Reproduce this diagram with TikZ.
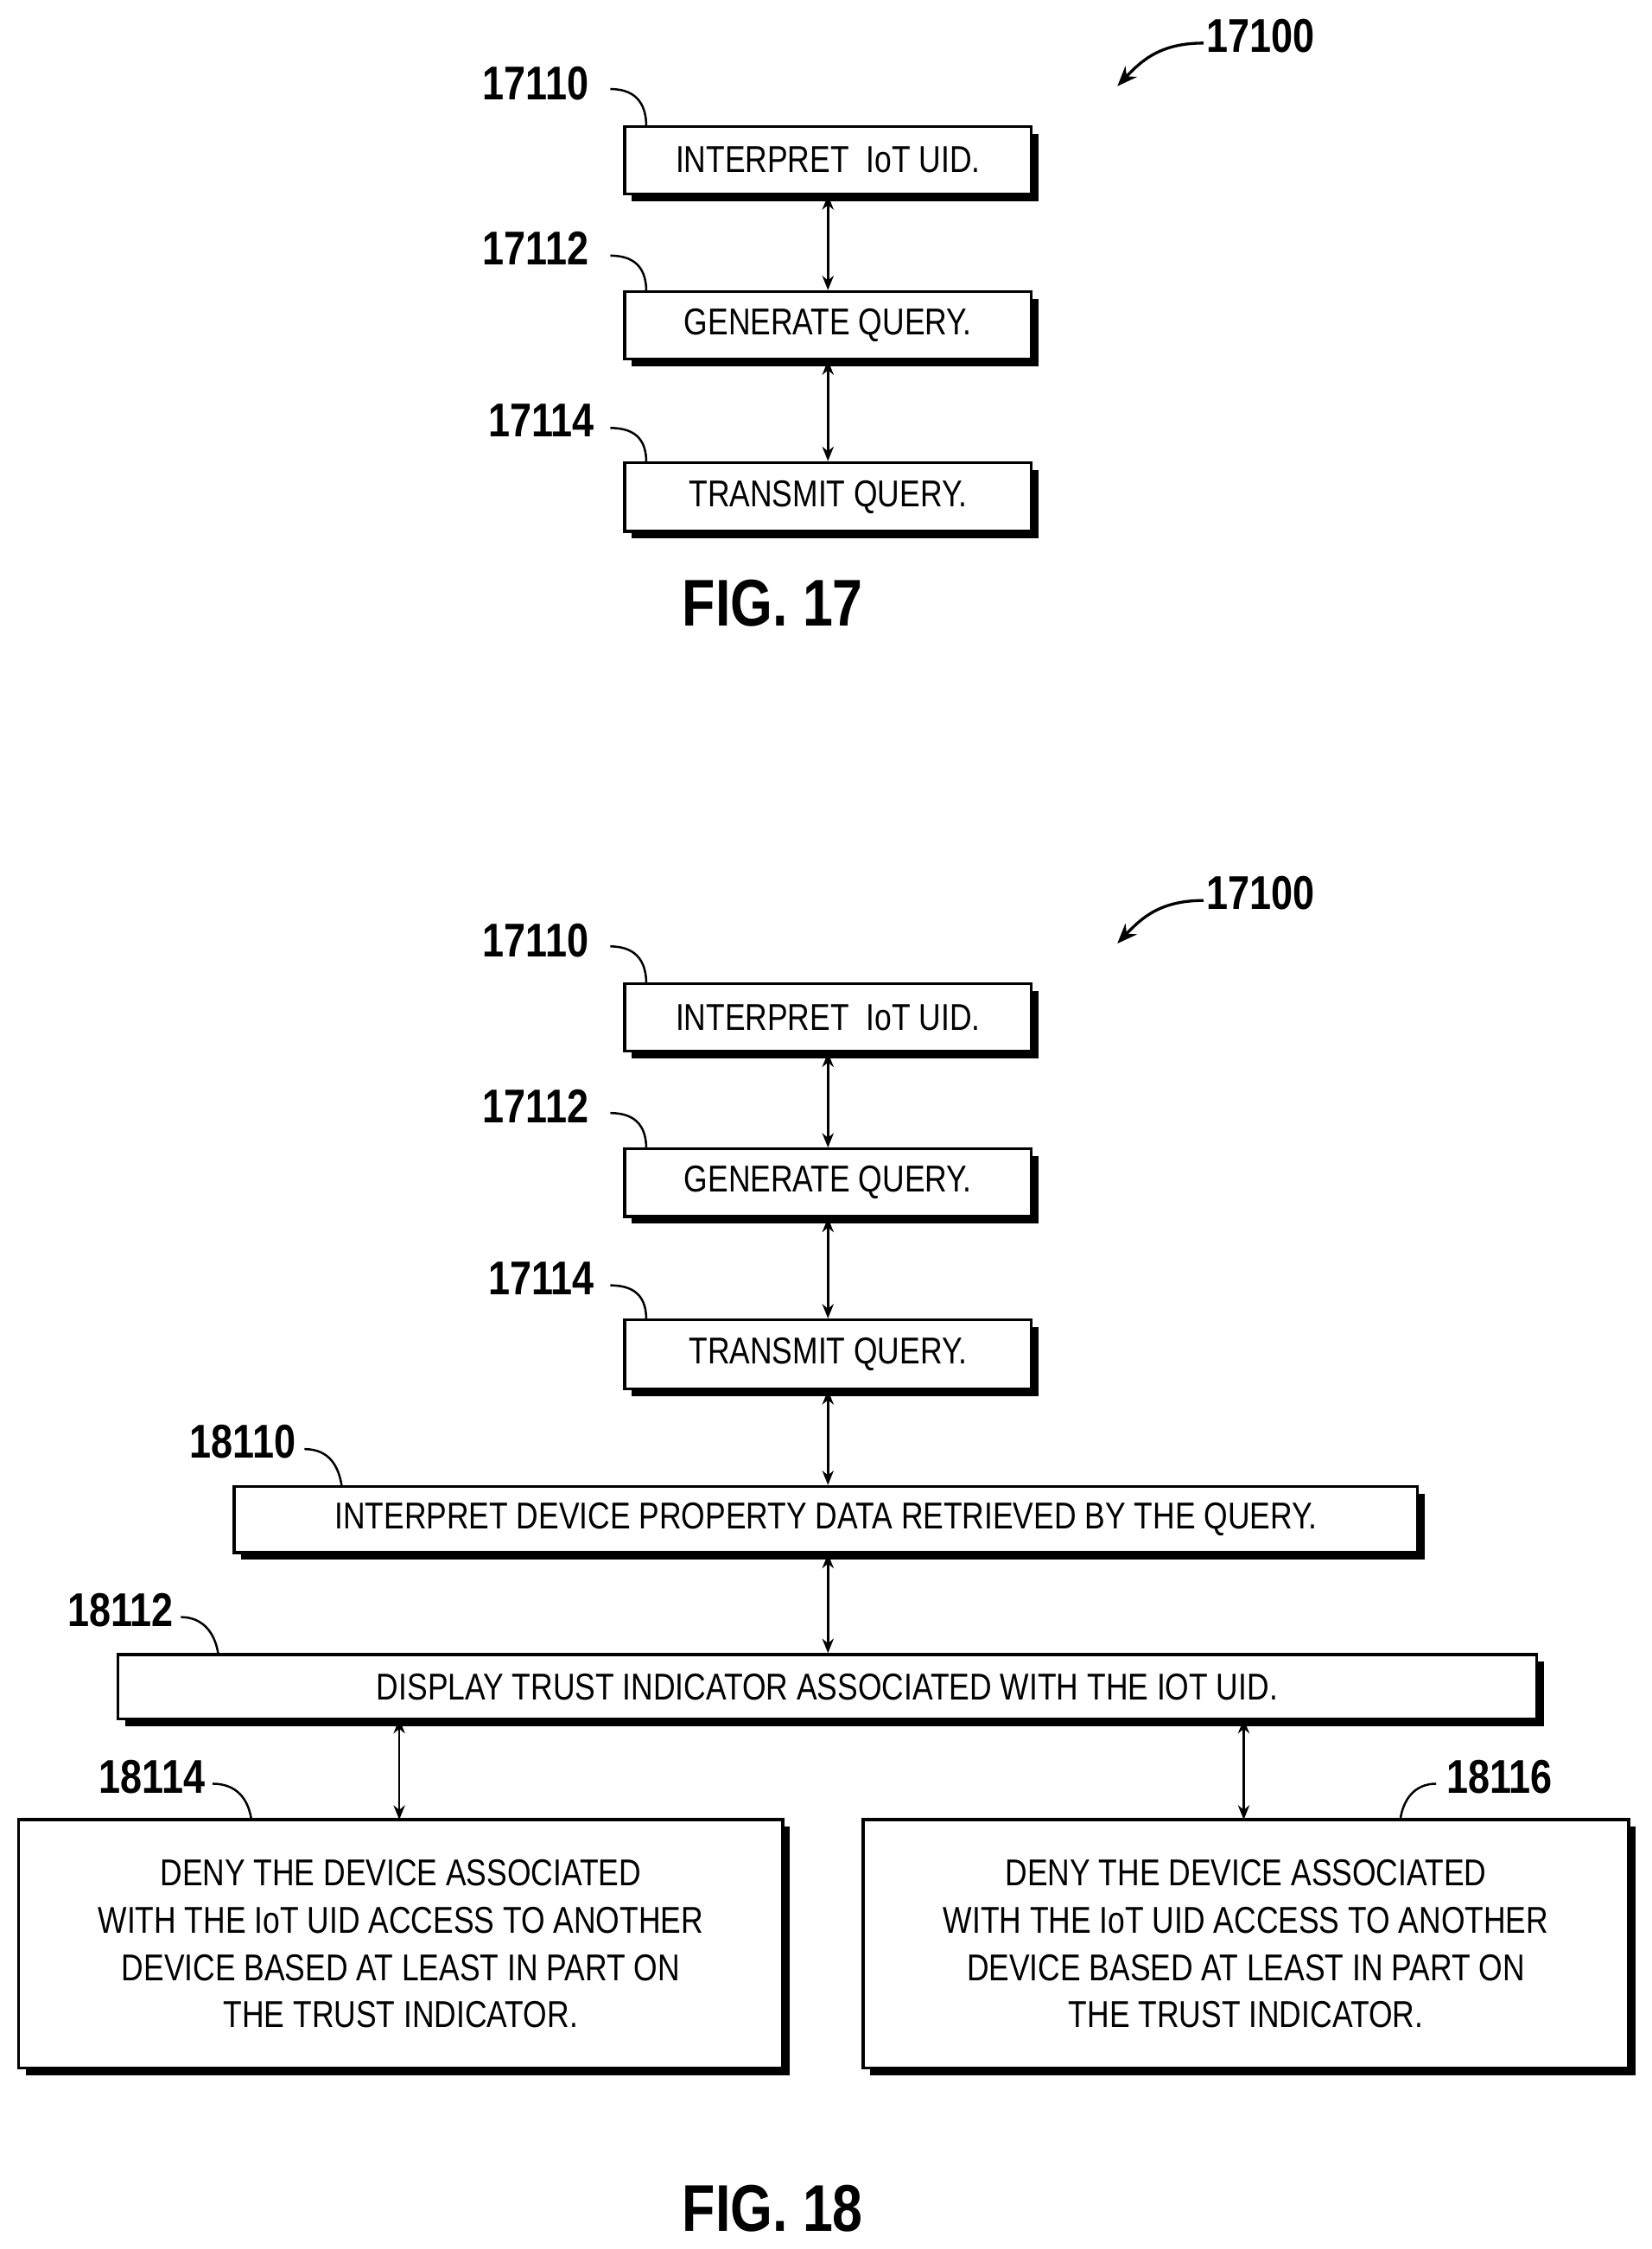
\documentclass[tikz,border=0pt]{standalone}
\usepackage{fontspec}
\setmainfont{Liberation Sans}[FakeStretch=0.82]
\usetikzlibrary{shadows,arrows.meta}
\begin{document}
\begin{tikzpicture}[x=1pt,y=-1pt,
 box/.style={draw,line width=2pt,fill=white,font=\fontsize{26}{33}\selectfont,align=center,inner sep=0pt,
   drop shadow={shadow xshift=5pt,shadow yshift=-5pt,fill=black,opacity=1}},
 lab/.style={font=\bfseries\fontsize{33}{33}\selectfont,inner sep=0pt},
 fig/.style={font=\bfseries\fontsize{46}{46}\selectfont,inner sep=0pt},
 dbl/.style={{Stealth[length=10pt,width=8pt]}-{Stealth[length=10pt,width=8pt]},line width=1.5pt},
 lead/.style={line width=1.5pt}]
\useasboundingbox (0,0) rectangle (1150,1566);
% FIG 17
\foreach \o/\s in {0/a,597/b}{
 \node[box,minimum width=283pt,minimum height=47pt] (\s1) at (576.5,111.5+\o) {INTERPRET\ \ IoT UID.};
 \node[box,minimum width=283pt,minimum height=47pt] (\s2) at (576.5,226.5+\o) {GENERATE QUERY.};
 \node[box,minimum width=283pt,minimum height=48pt] (\s3) at (576.5,346+\o) {TRANSMIT QUERY.};
 \draw[dbl] (\s1.south) -- (\s2.north);
 \draw[dbl] (\s2.south) -- (\s3.north);
 \node[lab,anchor=east] (\s l1) at (410,58+\o) {17110};
 \node[lab,anchor=east] (\s l2) at (410,173+\o) {17112};
 \node[lab,anchor=east] (\s l3) at (414,293+\o) {17114};
 \coordinate (\s c1) at (450,88+\o);
 \coordinate (\s c2) at (450,203+\o);
 \coordinate (\s c3) at (450,322+\o);
 \draw[lead] (425,62+\o) .. controls (445,62+\o) and (450,75+\o) .. (\s c1);
 \draw[lead] (425,178+\o) .. controls (445,178+\o) and (450,190+\o) .. (\s c2);
 \draw[lead] (425,298+\o) .. controls (445,298+\o) and (450,309+\o) .. (\s c3);
 \node[lab,anchor=west] (\s r) at (840,25+\o) {17100};
 \draw[line width=2pt,-{Stealth[length=14pt,width=11pt]}] (838,30+\o) .. controls (808,30+\o) and (795,42+\o) .. (778,60+\o);
}
\node[fig] (f17) at (538,420) {FIG. 17};
% FIG 18 extra
\node[box,minimum width=824pt,minimum height=46pt] (d1) at (575,1058) {INTERPRET DEVICE PROPERTY DATA RETRIEVED BY THE QUERY.};
\node[box,minimum width=988pt,minimum height=45pt] (d2) at (576,1174.5) {DISPLAY TRUST INDICATOR ASSOCIATED WITH THE IOT UID.};
\node[box,minimum width=532pt,minimum height=173pt] (d3) at (279,1353.5) {DENY THE DEVICE ASSOCIATED\\WITH THE IoT UID ACCESS TO ANOTHER\\DEVICE BASED AT LEAST IN PART ON\\THE TRUST INDICATOR.};
\node[box,minimum width=533pt,minimum height=173pt] (d4) at (867.5,1353.5) {DENY THE DEVICE ASSOCIATED\\WITH THE IoT UID ACCESS TO ANOTHER\\DEVICE BASED AT LEAST IN PART ON\\THE TRUST INDICATOR.};
\draw[dbl] (b3.south) -- (b3.south |- d1.north);
\draw[dbl] (d1.south -| b3.south) -- (d2.north -| b3.south);
\draw[dbl] (278,1197) -- (278,1267);
\draw[dbl] (866,1197) -- (866,1267);
\node[lab,anchor=east] (l18110) at (206,1004) {18110};
\node[lab,anchor=east] (l18112) at (121,1121) {18112};
\node[lab,anchor=east] (l18114) at (143,1237) {18114};
\node[lab,anchor=west] (l18116) at (1007,1237) {18116};
\draw[lead] (212,1009) .. controls (230,1009) and (236,1022) .. (238,1035);
\draw[lead] (126,1126) .. controls (142,1126) and (150,1138) .. (152,1152);
\draw[lead] (148,1242) .. controls (165,1242) and (173,1253) .. (175,1267);
\draw[lead] (1000,1242) .. controls (985,1242) and (977,1253) .. (975,1267);
\node[fig] (f18) at (538,1538) {FIG. 18};
\end{tikzpicture}
\end{document}
